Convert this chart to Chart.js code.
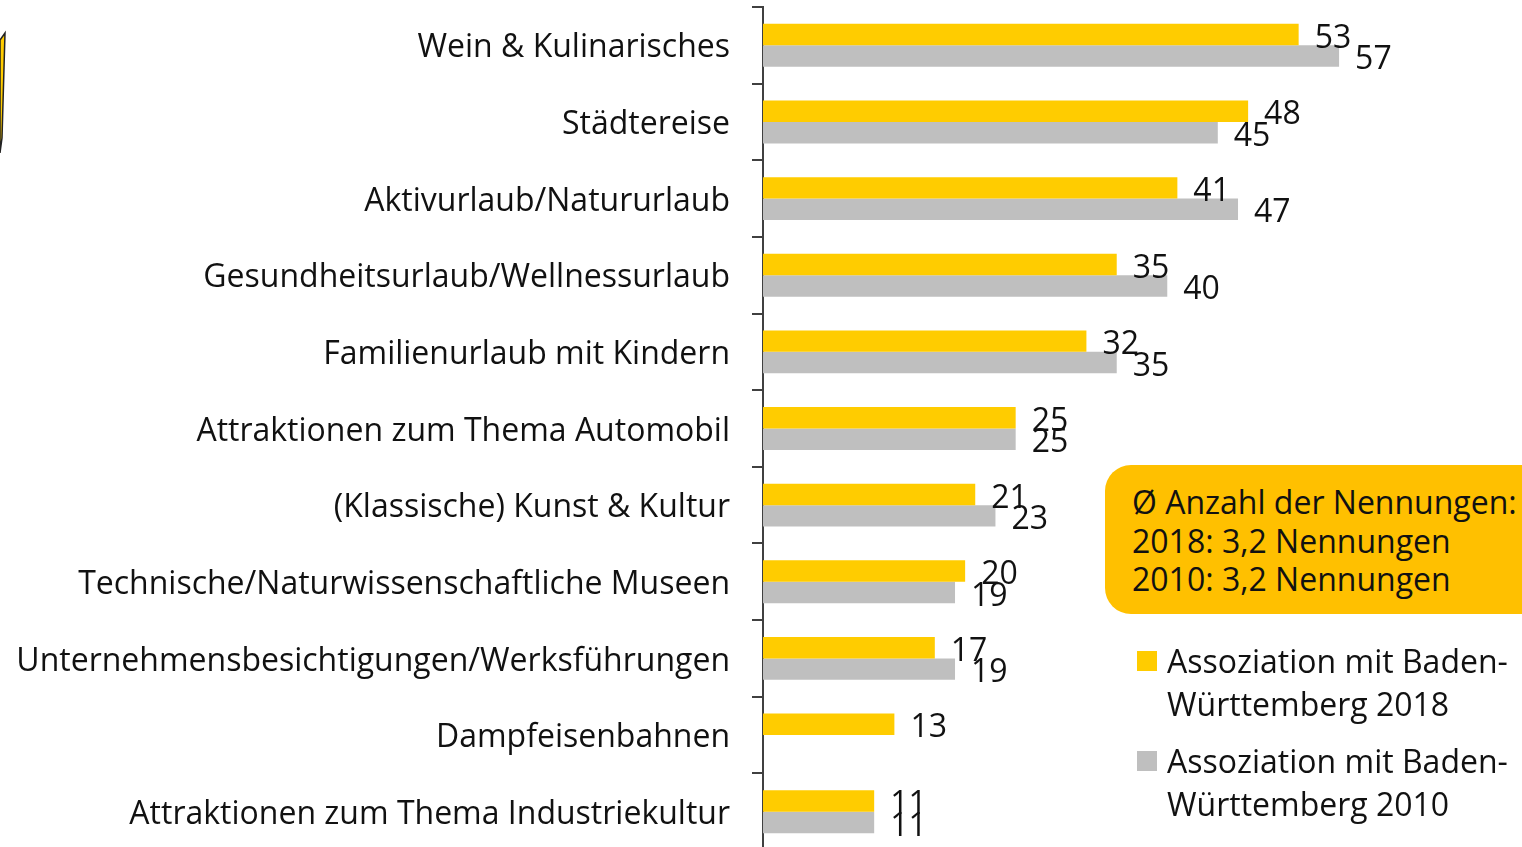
<!DOCTYPE html>
<html>
<head>
<meta charset="utf-8">
<script src="https://cdn.jsdelivr.net/npm/chart.js@4.4.1/dist/chart.umd.min.js"></script>
<style>
    html, body { margin: 0; padding: 0; background: #fff; overflow: hidden; }
    #wrap { position: relative; width: 1522px; height: 847px; }
    canvas { position: absolute; left: 0; top: 0; }
    .note {
        position: absolute; left: 1105px; top: 465px; width: 460px; height: 149px;
        background: #FFC000; border-radius: 26px;
        font-family: "Open Sans", sans-serif; font-size: 32px; line-height: 38.5px;
        color: #111; padding: 18px 0 0 27px; box-sizing: border-box;
    }
    .leg { position: absolute; left: 1137px; font-family: "Open Sans", sans-serif; font-size: 32px; line-height: 43px; color: #111; }
    .leg .sw { position: absolute; left: 0; top: 12px; width: 20px; height: 20px; }
    .leg .txt { margin-left: 30px; white-space: nowrap; }
    #logo { position: absolute; left: 0; top: 28px; }
</style>
</head>
<body>
<div id="wrap">
    <canvas id="chart" width="1522" height="850"></canvas>
    <svg id="logo" width="12" height="130">
        <path d="M0,12 L5,5 L4,40 L2,110 L0,125 Z" fill="#FFCC00" stroke="#222" stroke-width="1.5"/>
    </svg>
    <div class="note">Ø Anzahl der Nennungen:<br>2018: 3,2 Nennungen<br>2010: 3,2 Nennungen</div>
    <div class="leg" style="top:639px"><div class="sw" style="background:#FFCC00"></div><div class="txt">Assoziation mit Baden-<br>Württemberg 2018</div></div>
    <div class="leg" style="top:739px"><div class="sw" style="background:#BFBFBF"></div><div class="txt">Assoziation mit Baden-<br>Württemberg 2010</div></div>
</div>
<script>
// Kategorien
const categories = [
    'Wein & Kulinarisches',
    'Städtereise',
    'Aktivurlaub/Natururlaub',
    'Gesundheitsurlaub/Wellnessurlaub',
    'Familienurlaub mit Kindern',
    'Attraktionen zum Thema Automobil',
    '(Klassische) Kunst & Kultur',
    'Technische/Naturwissenschaftliche Museen',
    'Unternehmensbesichtigungen/Werksführungen',
    'Dampfeisenbahnen',
    'Attraktionen zum Thema Industriekultur'
];

// Werte
const values2018 = [53, 48, 41, 35, 32, 25, 21, 20, 17, 13, 11];
const values2010 = [57, 45, 47, 40, 35, 25, 23, 19, 19, null, 11];

const FONT = '"Open Sans", sans-serif';

// Wertebeschriftung am Balkenende
const valueLabels = {
    id: 'valueLabels',
    afterDatasetsDraw(chart) {
        const ctx = chart.ctx;
        ctx.save();
        ctx.font = '32px ' + FONT;
        ctx.fillStyle = '#111';
        ctx.textAlign = 'left';
        ctx.textBaseline = 'middle';
        chart.data.datasets.forEach((ds, i) => {
            const meta = chart.getDatasetMeta(i);
            meta.data.forEach((bar, j) => {
                const v = ds.data[j];
                if (v === null || v === undefined) return;
                ctx.fillText(String(v), bar.x + 16, bar.y + 4);
            });
        });
        ctx.restore();
    }
};

const ctx = document.getElementById('chart').getContext('2d');
new Chart(ctx, {
    type: 'bar',
    data: {
        labels: categories,
        datasets: [
            { label: 'Assoziation mit Baden-Württemberg 2018', data: values2018, backgroundColor: '#FFCC00' },
            { label: 'Assoziation mit Baden-Württemberg 2010', data: values2010, backgroundColor: '#BFBFBF' }
        ]
    },
    options: {
        indexAxis: 'y',
        responsive: false,
        animation: false,
        layout: { padding: { top: 7, right: 1, bottom: 0, left: 0 } },
        datasets: { bar: { categoryPercentage: 0.56, barPercentage: 1.0 } },
        scales: {
            x: { display: false, min: 0, max: 75 },
            y: {
                afterFit(scale) {
                    scale.width = 763;
                    scale.paddingTop = 0;
                    scale.paddingBottom = 0;
                },
                border: { display: true, color: '#404040', width: 2 },
                grid: { display: true, drawOnChartArea: false, drawTicks: true, tickLength: 11, color: '#404040', lineWidth: 2, offset: true },
                ticks: { color: '#111', font: { family: FONT, size: 32 }, padding: 22, autoSkip: false, labelOffset: 3 }
            }
        },
        plugins: {
            legend: { display: false },
            tooltip: { enabled: false }
        }
    },
    plugins: [valueLabels]
});
</script>
</body>
</html>
